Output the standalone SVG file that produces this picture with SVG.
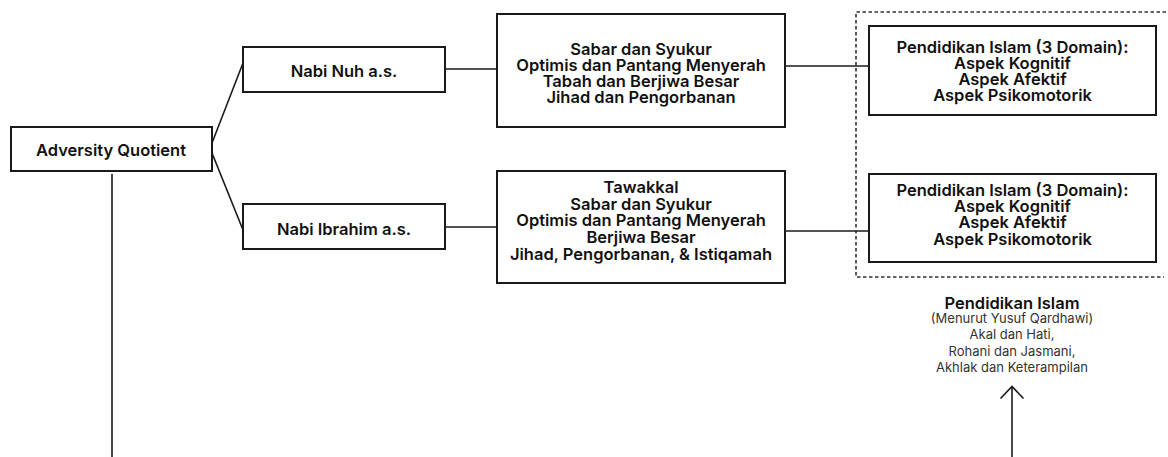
<svg xmlns="http://www.w3.org/2000/svg" width="1168" height="457" viewBox="0 0 1168 457">
<style>
.box{fill:#fff;stroke:#1a1a1a;stroke-width:2}
.ln{fill:none;stroke:#1a1a1a;stroke-width:1.6}
.t{font-family:Inter,"Liberation Sans",sans-serif;font-weight:600;font-size:16.5px;fill:#111;text-anchor:middle}
.s{font-family:Inter,"Liberation Sans",sans-serif;font-weight:400;font-size:13px;fill:#333;text-anchor:middle}
.dot{fill:none;stroke:#333;stroke-width:1.6;stroke-dasharray:3.5 2.5}
</style>
<g id="connectors">
<line class="ln" x1="112" y1="174" x2="112" y2="457"/>
<line class="ln" x1="212" y1="143" x2="243" y2="63"/>
<line class="ln" x1="212" y1="153" x2="243" y2="230"/>
<line class="ln" x1="445" y1="69" x2="497" y2="69"/>
<line class="ln" x1="445" y1="227" x2="497" y2="227"/>
<line class="ln" x1="785" y1="66" x2="869" y2="66"/>
<line class="ln" x1="785" y1="231" x2="869" y2="231"/>
<line class="ln" x1="1012" y1="457" x2="1012" y2="387"/>
<polyline class="ln" points="1000.5,398.5 1012,386.5 1023.5,398.5"/>
</g>
<path id="group-frame" class="dot" d="M1166,12 H856 V277 H1164"/>
<g id="aq">
<rect class="box" x="11" y="127" width="201" height="44"/>
<text class="t" x="111" y="156">Adversity Quotient</text>
</g>
<g id="nuh">
<rect class="box" x="243" y="47" width="202" height="45"/>
<text class="t" x="344" y="76.5">Nabi Nuh a.s.</text>
</g>
<g id="ibrahim">
<rect class="box" x="243" y="204" width="202" height="45"/>
<text class="t" x="344" y="235">Nabi Ibrahim a.s.</text>
</g>
<g id="nuh-values">
<rect class="box" x="497" y="14" width="288" height="113"/>
<text class="t" x="641" y="54.5">Sabar dan Syukur</text>
<text class="t" x="641" y="70.5">Optimis dan Pantang Menyerah</text>
<text class="t" x="641" y="86.5">Tabah dan Berjiwa Besar</text>
<text class="t" x="641" y="102.5">Jihad dan Pengorbanan</text>
</g>
<g id="ibrahim-values">
<rect class="box" x="497" y="171" width="288" height="112"/>
<text class="t" x="641" y="193">Tawakkal</text>
<text class="t" x="641" y="209.5">Sabar dan Syukur</text>
<text class="t" x="641" y="226">Optimis dan Pantang Menyerah</text>
<text class="t" x="641" y="242.5">Berjiwa Besar</text>
<text class="t" x="641" y="259.5">Jihad, Pengorbanan, &amp; Istiqamah</text>
</g>
<g id="pendidikan-1">
<rect class="box" x="869" y="26" width="287" height="89"/>
<text class="t" x="1012.5" y="53">Pendidikan Islam (3 Domain):</text>
<text class="t" x="1012.5" y="69">Aspek Kognitif</text>
<text class="t" x="1012.5" y="84.5">Aspek Afektif</text>
<text class="t" x="1012.5" y="101">Aspek Psikomotorik</text>
</g>
<g id="pendidikan-2">
<rect class="box" x="869" y="174" width="287" height="88"/>
<text class="t" x="1012.5" y="196">Pendidikan Islam (3 Domain):</text>
<text class="t" x="1012.5" y="212">Aspek Kognitif</text>
<text class="t" x="1012.5" y="228">Aspek Afektif</text>
<text class="t" x="1012.5" y="244.5">Aspek Psikomotorik</text>
</g>
<g id="qardhawi">
<text class="t" x="1012" y="308.5">Pendidikan Islam</text>
<text class="s" x="1012" y="323">(Menurut Yusuf Qardhawi)</text>
<text class="s" x="1012" y="339">Akal dan Hati,</text>
<text class="s" x="1012" y="355.5">Rohani dan Jasmani,</text>
<text class="s" x="1012" y="372">Akhlak dan Keterampilan</text>
</g>
</svg>
